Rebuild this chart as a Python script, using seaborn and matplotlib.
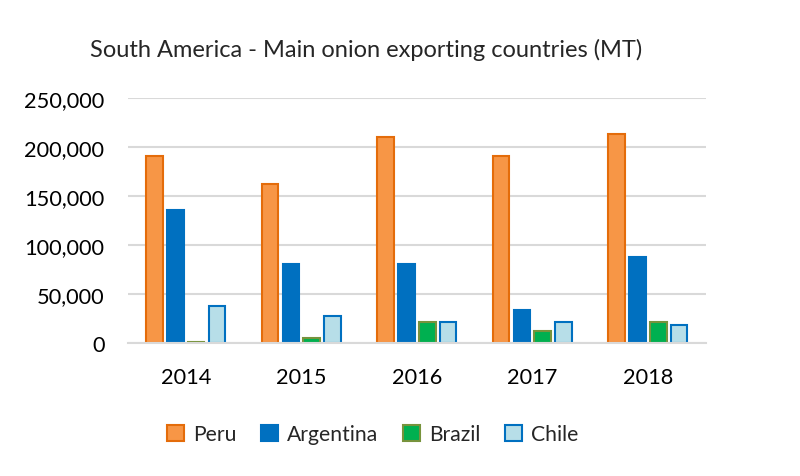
import numpy as np
import pandas as pd
import matplotlib.pyplot as plt
import seaborn as sns
from matplotlib.patches import Patch

years = ["2014", "2015", "2016", "2017", "2018"]
peru = [191000, 162500, 210500, 190300, 212700]
argentina = [135800, 81300, 80300, 34100, 88400]
brazil = [1600, 5400, 22000, 12500, 22000]
chile = [38200, 27400, 21300, 22000, 18600]
countries = ["Peru", "Argentina", "Brazil", "Chile"]

fills = ["#F79646", "#0070C0", "#00B050", "#B7DEE8"]
edges = ["#E46C0A", "#0070C0", "#77933C", "#0070C0"]

df = pd.DataFrame({
    "year": years * 4,
    "country": np.repeat(countries, len(years)),
    "value": peru + argentina + brazil + chile,
})

sns.set_theme(style="white")
plt.rcParams['font.family'] = ['Lato', 'DejaVu Sans']

fig = plt.figure(figsize=(8, 4.77), dpi=100)
ax = fig.add_axes([0.16, 0.278, 0.722, 0.515])

sns.barplot(data=df, x="year", y="value", hue="country", palette=fills,
            width=0.72, gap=0.2, ax=ax, legend=False, saturation=1)

for i, cont in enumerate(ax.containers):
    for p in cont.patches:
        p.set_edgecolor(edges[i])
        p.set_linewidth(1.5)

ax.set_ylim(0, 250000)
ax.set_yticks(range(0, 250001, 50000))
ax.set_yticklabels([f"{v:,}" for v in range(0, 250001, 50000)])
ax.yaxis.grid(True, color="#D9D9D9", linewidth=1.5)
ax.set_axisbelow(True)
for s in ["top", "right", "left"]:
    ax.spines[s].set_visible(False)
ax.spines["bottom"].set_color("#D9D9D9")
ax.spines["bottom"].set_linewidth(1.5)
ax.tick_params(axis="both", length=0, labelsize=15.7, colors="black", pad=17)
ax.set_xlabel("")
ax.set_ylabel("")

fig.text(0.113, 0.895, "South America - Main onion exporting countries (MT)",
         fontsize=17, ha="left", va="center")

handles = [Patch(facecolor=f, edgecolor=e, linewidth=1.5) for f, e in zip(fills, edges)]
fig.legend(handles, countries, loc="center", bbox_to_anchor=(0.466, 0.088), ncol=4,
           frameon=False, fontsize=15.2, handlelength=0.8, handleheight=0.8,
           handletextpad=0.4, columnspacing=1.2)

fig.savefig("out.png", dpi=100)
